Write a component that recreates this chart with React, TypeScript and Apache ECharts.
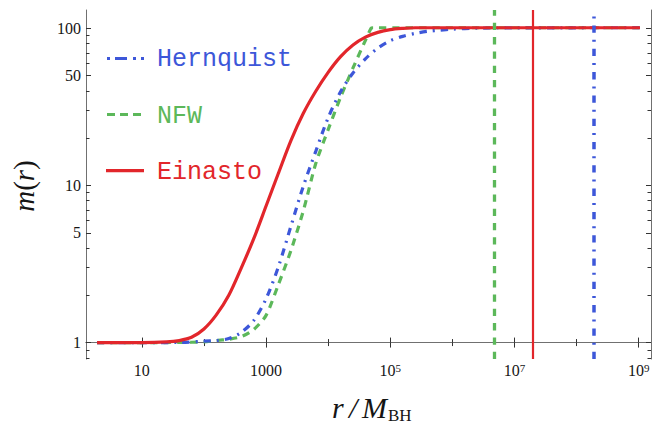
import React, { useEffect, useRef } from "react";
import * as echarts from "echarts";

// ---- data (r in units of M_BH, m(r)) ----
const hernquistR = [1.9, 10, 40, 100, 158, 251, 398, 631, 1000, 1585, 2512, 3981, 6310, 10000, 15850, 25120, 39810, 63100, 100000, 158500, 251200, 398100, 631000, 1e6, 2.5e6, 1e7, 1.05e9];
const hernquistM = [1, 1, 1.002, 1.02, 1.03, 1.06, 1.16, 1.38, 1.9, 3.05, 5.5, 9.9, 16.5, 27.0, 39.5, 52, 64, 75, 83.5, 89, 93, 95.8, 97.5, 99, 100.3, 100.8, 101];

const nfwR = [1.9, 10, 40, 100, 158, 251, 398, 631, 1000, 1585, 2512, 3981, 6310, 10000, 15850, 25120, 39810, 48980, 52480, 1e6, 1.05e9];
const nfwM = [1, 1, 1.002, 1.01, 1.03, 1.05, 1.09, 1.21, 1.49, 2.35, 3.85, 6.9, 13.8, 22.7, 36.5, 56, 84, 100, 101, 101, 101];

const einastoR = [1.9, 10, 25, 40, 63, 100, 158, 251, 398, 631, 1000, 1585, 2512, 3981, 6310, 10000, 15850, 25120, 39810, 63100, 100000, 158500, 251200, 1e6, 1.05e9];
const einastoM = [1.0, 1.0, 1.01, 1.03, 1.08, 1.22, 1.5, 2.0, 2.98, 4.57, 7.4, 12.0, 19.3, 28.8, 39.8, 52.5, 66.1, 78.5, 88.1, 94.4, 98.2, 100, 101, 101, 101];

// vertical marker radii
const nfwCut = 4.7e6;
const einastoCut = 1.95e7;
const hernquistCut = 1.9e8;

// axes
const xRange = [1.26, 1.58e9];
const yRange = [0.786, 131];
const xMajorTicks = [10, 1e3, 1e5, 1e7, 1e9];
const xMinorTicks = [100, 1e4, 1e6, 1e8];
const yMajorTicks = [1, 5, 10, 50, 100];
const yMinorTicks = [0.8, 0.9, 2, 3, 4, 6, 7, 8, 9, 20, 30, 40, 60, 70, 80, 90];

const legendNames = ["Hernquist", "NFW", "Einasto"];

const BLUE = "#3d57d9";
const GREEN = "#5cb85a";
const RED = "#e2262b";
const FRAME = "#707070";
const TICK = "#333333";
const TEXT = "#151515";
const SERIF = "Liberation Serif";
const MONO = "Liberation Mono";

const lg = (v: number) => Math.log10(v);
const toData = (rs: number[], ms: number[]) => rs.map((r, i) => [lg(r), lg(ms[i])]);

export default function App() {
  const ref = useRef<HTMLDivElement>(null);

  useEffect(() => {
    document.body.style.margin = "0";
    if (!ref.current) return;
    const chart = echarts.init(ref.current, undefined, { renderer: "svg" });

    const xBase: any = {
      type: "value",
      min: lg(xRange[0]),
      max: lg(xRange[1]),
      splitLine: { show: false },
      gridIndex: 0,
    };
    const yBase: any = {
      type: "value",
      min: lg(yRange[0]),
      max: lg(yRange[1]),
      splitLine: { show: false },
      gridIndex: 0,
    };
    const majorTick = (vals: number[]) => ({
      show: true,
      inside: true,
      length: 5,
      customValues: vals.map(lg),
      lineStyle: { color: TICK, width: 1 },
    });
    const minorTick = (vals: number[]) => ({
      show: true,
      inside: true,
      length: 3.5,
      customValues: vals.map(lg),
      lineStyle: { color: TICK, width: 1 },
    });
    const frameLine = { show: true, lineStyle: { color: FRAME, width: 1 } };

    const xFormatter = (v: number) => {
      const n = Math.round(v);
      return n <= 3 ? String(Math.pow(10, n)) : `{b|10}{sup|${n}}`;
    };
    const yFormatter = (v: number) => String(Math.round(Math.pow(10, v)));

    const option: any = {
      animation: false,
      backgroundColor: "#ffffff",
      textStyle: { fontFamily: SERIF },
      grid: { left: 86, right: 13, top: 10, bottom: 67, outerBoundsMode: "none" },
      xAxis: [
        {
          ...xBase,
          position: "bottom",
          axisLine: frameLine,
          axisTick: majorTick(xMajorTicks),
          axisLabel: {
            show: true,
            customValues: xMajorTicks.map(lg),
            formatter: xFormatter,
            margin: 3,
            fontFamily: SERIF,
            fontSize: 16,
            color: TEXT,
            lineHeight: 17,
            rich: {
              b: { fontFamily: SERIF, fontSize: 16, color: TEXT, lineHeight: 17 },
              sup: { fontFamily: SERIF, fontSize: 11, color: TEXT, verticalAlign: "top", lineHeight: 11 },
            },
          },
        },
        { ...xBase, position: "bottom", axisLine: { show: false }, axisTick: minorTick(xMinorTicks), axisLabel: { show: false } },
        { ...xBase, position: "top", axisLine: frameLine, axisTick: majorTick(xMajorTicks), axisLabel: { show: false } },
        { ...xBase, position: "top", axisLine: { show: false }, axisTick: minorTick(xMinorTicks), axisLabel: { show: false } },
      ],
      yAxis: [
        {
          ...yBase,
          position: "left",
          axisLine: frameLine,
          axisTick: majorTick(yMajorTicks),
          axisLabel: {
            show: true,
            customValues: yMajorTicks.map(lg),
            formatter: yFormatter,
            margin: 5,
            fontFamily: SERIF,
            fontSize: 16,
            color: TEXT,
          },
        },
        { ...yBase, position: "left", axisLine: { show: false }, axisTick: minorTick(yMinorTicks), axisLabel: { show: false } },
        { ...yBase, position: "right", axisLine: frameLine, axisTick: majorTick(yMajorTicks), axisLabel: { show: false } },
        { ...yBase, position: "right", axisLine: { show: false }, axisTick: minorTick(yMinorTicks), axisLabel: { show: false } },
      ],
      series: [
        {
          name: legendNames[1],
          type: "line",
          xAxisIndex: 0,
          yAxisIndex: 0,
          data: toData(nfwR, nfwM),
          showSymbol: false,
          symbol: "none",
          smooth: 0.25,
          lineStyle: { color: GREEN, width: 3.2, type: [7.3, 6], cap: "butt" },
          z: 2,
          markLine: {
            silent: true,
            symbol: ["none", "none"],
            label: { show: false },
            lineStyle: { color: GREEN, width: 3.3, type: [7.3, 7], cap: "butt" },
            data: [{ xAxis: lg(nfwCut) }],
          },
        },
        {
          name: legendNames[0],
          type: "line",
          xAxisIndex: 0,
          yAxisIndex: 0,
          data: toData(hernquistR, hernquistM),
          showSymbol: false,
          symbol: "none",
          smooth: 0.3,
          lineStyle: { color: BLUE, width: 3.2, type: [7.3, 6, 2, 6], cap: "butt" },
          z: 3,
          markLine: {
            silent: true,
            symbol: ["none", "none"],
            label: { show: false },
            lineStyle: { color: BLUE, width: 3.5, type: [7.3, 7, 2, 7], cap: "butt" },
            data: [{ xAxis: lg(hernquistCut) }],
          },
        },
        {
          name: legendNames[2],
          type: "line",
          xAxisIndex: 0,
          yAxisIndex: 0,
          data: toData(einastoR, einastoM),
          showSymbol: false,
          symbol: "none",
          smooth: 0.3,
          lineStyle: { color: RED, width: 3.2, type: "solid" },
          z: 4,
          markLine: {
            silent: true,
            symbol: ["none", "none"],
            label: { show: false },
            lineStyle: { color: RED, width: 2.2, type: "solid" },
            data: [{ xAxis: lg(einastoCut) }],
          },
        },
      ],
      graphic: [
        // legend
        { type: "line", shape: { x1: 107, y1: 58.5, x2: 144, y2: 58.5 }, style: { stroke: BLUE, lineWidth: 3.2, lineDash: [3, 5, 12, 6] }, z: 10 },
        { type: "text", x: 157, y: 59.5, style: { text: legendNames[0], fontFamily: MONO, fontSize: 25, fill: BLUE, verticalAlign: "middle", align: "left" }, z: 10 },
        { type: "line", shape: { x1: 107, y1: 114.5, x2: 144, y2: 114.5 }, style: { stroke: GREEN, lineWidth: 3.2, lineDash: [8, 5] }, z: 10 },
        { type: "text", x: 157, y: 116.5, style: { text: legendNames[1], fontFamily: MONO, fontSize: 25, fill: GREEN, verticalAlign: "middle", align: "left" }, z: 10 },
        { type: "line", shape: { x1: 106, y1: 170.7, x2: 144, y2: 170.7 }, style: { stroke: RED, lineWidth: 3.2 }, z: 10 },
        { type: "text", x: 157, y: 172.5, style: { text: legendNames[2], fontFamily: MONO, fontSize: 25, fill: RED, verticalAlign: "middle", align: "left" }, z: 10 },
        // y axis title
        {
          type: "text",
          x: 24,
          y: 186,
          rotation: Math.PI / 2,
          style: {
            text: "{i|m}{n|(}{i|r}{n|)}",
            align: "center",
            verticalAlign: "middle",
            fill: TEXT,
            rich: {
              i: { fontFamily: SERIF, fontStyle: "italic", fontSize: 29, fill: TEXT },
              n: { fontFamily: SERIF, fontSize: 29, fill: TEXT },
            },
          },
        },
        // x axis title
        { type: "text", x: 332, y: 407, style: { text: "r", fontFamily: SERIF, fontStyle: "italic", fontSize: 30, fill: TEXT, align: "left", verticalAlign: "middle" } },
        { type: "text", x: 349, y: 407, style: { text: "/", fontFamily: SERIF, fontStyle: "italic", fontSize: 30, fill: TEXT, align: "left", verticalAlign: "middle" } },
        { type: "text", x: 362, y: 407, style: { text: "M", fontFamily: SERIF, fontStyle: "italic", fontSize: 30, fill: TEXT, align: "left", verticalAlign: "middle" } },
        { type: "text", x: 388, y: 415.5, style: { text: "BH", fontFamily: SERIF, fontSize: 17, fill: TEXT, align: "left", verticalAlign: "middle" } },
      ],
    };

    chart.setOption(option);
    return () => chart.dispose();
  }, []);

  return <div ref={ref} style={{ position: "fixed", left: 0, top: 0, width: 664, height: 426 }} />;
}
